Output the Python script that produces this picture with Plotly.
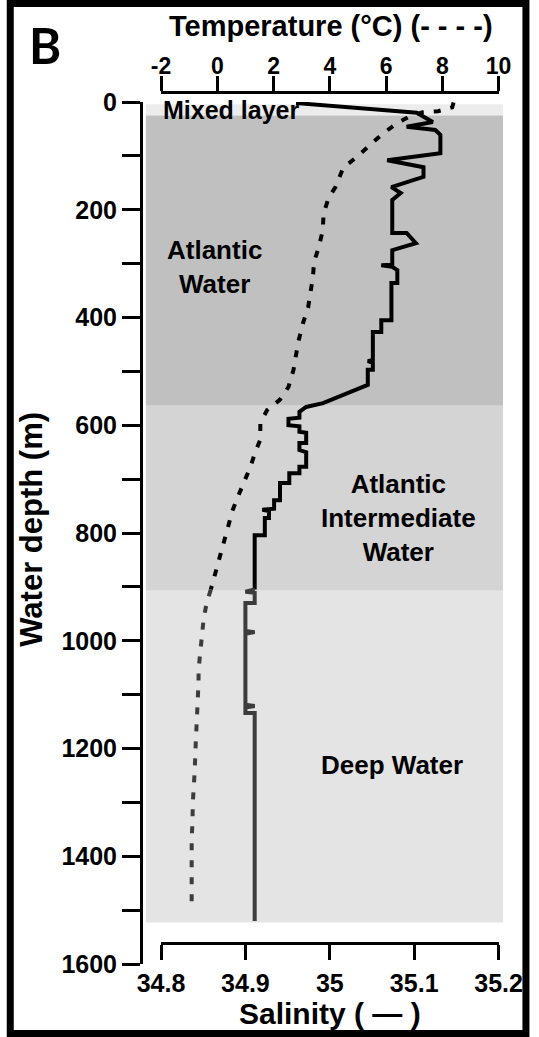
import plotly.graph_objects as go

# ---- Salinity profile (depth in m, salinity) ----
sal_depth_upper = [2, 18.6, 20, 37, 46, 52, 61, 95, 108, 121, 139, 158, 169, 182, 243, 243, 262, 275,
                   302, 303, 306, 312, 336, 336, 405, 405, 427, 427, 479, 481, 484, 497, 497, 525, 529,
                   535, 548, 559, 566, 575, 586, 588, 600, 602, 612, 614, 633, 633, 646, 650, 677, 677,
                   689, 689, 707, 707, 739, 739, 755, 757, 759, 772, 772, 804, 804, 905]
sal_value_upper = [34.960, 35.091, 35.103, 35.122, 35.091, 35.125, 35.131, 35.131, 35.068, 35.111,
                   35.111, 35.073, 35.084, 35.074, 35.074, 35.091, 35.102, 35.074, 35.074, 35.061,
                   35.074, 35.080, 35.080, 35.073, 35.073, 35.061, 35.061, 35.051, 35.051, 35.045,
                   35.051, 35.051, 35.045, 35.045, 35.039, 35.030, 35.010, 34.992, 34.972, 34.964,
                   34.964, 34.951, 34.951, 34.964, 34.964, 34.972, 34.972, 34.964, 34.964, 34.972,
                   34.972, 34.964, 34.964, 34.952, 34.952, 34.941, 34.941, 34.934, 34.934, 34.920,
                   34.928, 34.928, 34.923, 34.923, 34.911, 34.911]

sal_depth_deep = [905, 909, 911, 913, 930, 930, 982, 984, 987, 1119, 1121, 1124, 1134, 1134, 1520]
sal_value_deep = [34.911, 34.900, 34.911, 34.911, 34.911, 34.900, 34.900, 34.911, 34.900, 34.900,
                  34.911, 34.900, 34.900, 34.911, 34.911]

# ---- Temperature profile (depth in m, deg C) ----
temp_depth_upper = [1, 10, 17, 19, 28, 39, 61, 84, 102, 122, 140, 158, 178, 206, 238, 269, 297, 325,
                    381, 410, 445, 497, 529, 553, 572, 596, 627, 650, 677, 702, 733, 757, 789, 819,
                    850, 874, 900, 905]
temp_value_upper = [8.40, 8.35, 7.85, 7.30, 6.80, 6.39, 5.83, 5.35, 4.96, 4.48, 4.35, 4.20, 3.96,
                    3.78, 3.75, 3.61, 3.44, 3.40, 3.23, 3.05, 2.88, 2.71, 2.53, 2.22, 1.77, 1.53,
                    1.53, 1.35, 1.18, 0.97, 0.73, 0.55, 0.38, 0.21, 0.03, -0.07, -0.21, -0.23]

temp_depth_deep = [905, 930, 962, 993, 1021, 1051, 1082, 1110, 1147, 1179, 1208, 1240, 1271, 1301,
                   1336, 1366, 1496]
temp_value_deep = [-0.23, -0.38, -0.49, -0.56, -0.59, -0.66, -0.67, -0.70, -0.73, -0.77, -0.78,
                   -0.80, -0.84, -0.87, -0.88, -0.91, -0.91]

# ---- Water masses: top depth, bottom depth, fill ----
layer_top = [4, 25, 564, 907]
layer_bottom = [25, 564, 907, 1523]
layer_fill = ["#ececec", "#c0c0c0", "#d4d4d4", "#e4e4e4"]

# ---- Axis ticks ----
depth_ticks = list(range(0, 1601, 100))
depth_ticktext = [str(v) if v % 200 == 0 else "" for v in depth_ticks]
sal_ticks = [34.8, 34.9, 35.0, 35.1, 35.2]
sal_ticktext = ["34.8", "34.9", "35", "35.1", "35.2"]
temp_ticks = [-2, 0, 2, 4, 6, 8, 10]
temp_ticktext = ["-2", "0", "2", "4", "6", "8", "10"]

# ---- Page geometry (pixels) ----
W, H = 539, 1037
ML, MR, MT, MB = 141, 27, 92, 73
PW, PH = W - ML - MR, H - MT - MB


def px(x):
    return (x - ML) / PW


def py(y):
    return (H - MB - y) / PH


FONT = "Liberation Sans, Arial, sans-serif"
BLACK = "#000000"
DARK = "#3c3c3c"
DASH = "7px,10px"

fig = go.Figure()

fig.add_trace(go.Scatter(x=sal_value_upper, y=sal_depth_upper, mode="lines",
                         line=dict(color=BLACK, width=4), xaxis="x", yaxis="y",
                         showlegend=False, hoverinfo="skip"))
fig.add_trace(go.Scatter(x=sal_value_deep, y=sal_depth_deep, mode="lines",
                         line=dict(color=DARK, width=4), xaxis="x", yaxis="y",
                         showlegend=False, hoverinfo="skip"))
fig.add_trace(go.Scatter(x=temp_value_upper, y=temp_depth_upper, mode="lines",
                         line=dict(color=BLACK, width=4, dash=DASH), xaxis="x2", yaxis="y",
                         showlegend=False, hoverinfo="skip"))
fig.add_trace(go.Scatter(x=temp_value_deep, y=temp_depth_deep, mode="lines",
                         line=dict(color=DARK, width=4, dash=DASH), xaxis="x2", yaxis="y",
                         showlegend=False, hoverinfo="skip"))

shapes = []
for top, bot, col in zip(layer_top, layer_bottom, layer_fill):
    shapes.append(dict(type="rect", xref="paper", yref="y", x0=px(146), x1=1.0, y0=top, y1=bot,
                       fillcolor=col, line=dict(width=0), layer="below"))
# outer frame
shapes.append(dict(type="rect", xref="paper", yref="paper", x0=px(7), x1=px(535.5),
                   y0=py(1033.5), y1=py(3.5), line=dict(color=BLACK, width=7),
                   fillcolor="rgba(0,0,0,0)", layer="above"))

bold = dict(family=FONT, color=BLACK, weight="bold")
ann_font = dict(bold, size=26)

annotations = [
    dict(text="Mixed layer", xref="paper", yref="y", x=px(161), y=14.8, xanchor="left",
         yanchor="middle", showarrow=False, font=dict(bold, size=25)),
    dict(text="Atlantic<br>Water", xref="paper", yref="y", x=px(216), y=306, xanchor="center",
         yanchor="middle", showarrow=False, font=ann_font),
    dict(text="Atlantic<br>Intermediate<br>Water", xref="paper", yref="y", x=px(405), y=772,
         xanchor="center", yanchor="middle", showarrow=False, font=ann_font),
    dict(text="Deep Water", xref="paper", yref="y", x=px(398), y=1231, xanchor="center",
         yanchor="middle", showarrow=False, font=ann_font),
    dict(text="Temperature (°C) (- - - -)", xref="paper", yref="paper", x=px(335.5), y=py(26),
         xanchor="center", yanchor="middle", showarrow=False, font=dict(bold, size=29)),
    dict(text="Salinity ( — )", xref="paper", yref="paper", x=px(335), y=py(1013),
         xanchor="center", yanchor="middle", showarrow=False, font=dict(bold, size=30)),
    dict(text="Water depth (m)", xref="paper", yref="paper", x=px(28), y=py(529),
         xanchor="center", yanchor="middle", textangle=-90, showarrow=False,
         font=dict(bold, size=31)),
    dict(text="B", xref="paper", yref="paper", x=px(42.5), y=py(45), xanchor="center",
         yanchor="middle", showarrow=False,
         font=dict(family="Lato, Liberation Sans, sans-serif", color=BLACK, weight="bold", size=49)),
]

x_domain = [px(161.5), px(507.5)]

fig.update_layout(
    width=W, height=H,
    margin=dict(l=ML, r=MR, t=MT, b=MB, pad=0),
    paper_bgcolor="white", plot_bgcolor="rgba(0,0,0,0)",
    shapes=shapes, annotations=annotations,
    xaxis=dict(domain=x_domain, range=[34.8, 35.2], anchor="free", position=py(943),
               side="bottom", showline=True, linecolor=BLACK, linewidth=3,
               ticks="outside", ticklen=15, tickwidth=3, tickcolor=BLACK,
               tickvals=sal_ticks, ticktext=sal_ticktext, tickfont=dict(bold, size=25),
               ticklabelstandoff=2,
               showgrid=False, zeroline=False, fixedrange=True),
    xaxis2=dict(overlaying="x", range=[-2, 10], anchor="free", position=1.0, side="top",
                showline=True, linecolor=BLACK, linewidth=3,
                ticks="outside", ticklen=15, tickwidth=3, tickcolor=BLACK,
                tickvals=temp_ticks, ticktext=temp_ticktext, tickfont=dict(bold, size=23),
                ticklabelstandoff=-7,
                showgrid=False, zeroline=False, fixedrange=True),
    yaxis=dict(domain=[0, py(102)], range=[1600, 0], anchor="free", position=0,
               showline=True, linecolor=BLACK, linewidth=3,
               ticks="outside", ticklen=18, tickwidth=3, tickcolor=BLACK,
               tickvals=depth_ticks, ticktext=depth_ticktext, tickfont=dict(bold, size=25),
               showgrid=False, zeroline=False, fixedrange=True),
)

fig.write_html("out.html")
